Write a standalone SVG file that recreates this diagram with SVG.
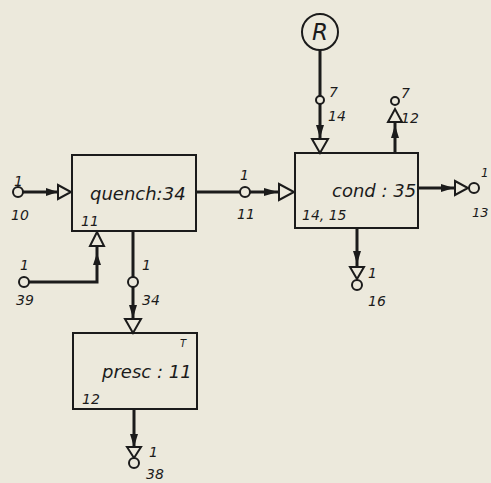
<svg xmlns="http://www.w3.org/2000/svg" width="491" height="483" viewBox="0 0 491 483">
<style>
.box{fill:none;stroke:#1b1b1b;stroke-width:2}
.ln{fill:none;stroke:#1b1b1b;stroke-width:3}
.tri{fill:#ece9dc;stroke:#1b1b1b;stroke-width:2;stroke-linejoin:miter}
.ah{fill:#1b1b1b;stroke:none}
.pt{fill:#ece9dc;stroke:#1b1b1b;stroke-width:2}
.t{font-family:"DejaVu Sans","Liberation Sans",sans-serif;font-style:oblique;fill:#1b1b1b}
.big{font-size:18px}
.sm{font-size:14px}
</style>
<rect x="0" y="0" width="491" height="483" fill="#ece9dc"/>

<g id="connectors">
  <!-- input 10 -> quench -->
  <line class="ln" x1="22" y1="192" x2="58" y2="192"/>
  <polygon class="ah" points="46,188 58,192 46,196"/>
  <polygon class="tri" points="58,185 71,192 58,199"/>
  <circle class="pt" cx="18" cy="192" r="5"/>
  <text class="t sm" x="14" y="186">1</text>
  <text class="t sm" x="11" y="220">10</text>

  <!-- input 39 -> quench bottom -->
  <polyline class="ln" points="28,282 97,282 97,247"/>
  <polygon class="ah" points="93,265 97,253 101,265"/>
  <polygon class="tri" points="90,246 97,232 104,246"/>
  <circle class="pt" cx="24" cy="282" r="5"/>
  <text class="t sm" x="20" y="270">1</text>
  <text class="t sm" x="16" y="305">39</text>

  <!-- quench -> cond -->
  <line class="ln" x1="196" y1="192" x2="279" y2="192"/>
  <polygon class="ah" points="264,188 278,192 264,196"/>
  <polygon class="tri" points="279,184 294,192 279,200"/>
  <circle class="pt" cx="245" cy="192" r="5"/>
  <text class="t sm" x="240" y="180">1</text>
  <text class="t sm" x="237" y="219">11</text>

  <!-- quench -> presc -->
  <line class="ln" x1="133" y1="232" x2="133" y2="320"/>
  <polygon class="ah" points="129,305 133,318 137,305"/>
  <polygon class="tri" points="125,319 133,333 141,319"/>
  <circle class="pt" cx="133" cy="282" r="5"/>
  <text class="t sm" x="142" y="270">1</text>
  <text class="t sm" x="142" y="305">34</text>

  <!-- presc -> 38 -->
  <line class="ln" x1="134" y1="410" x2="134" y2="447"/>
  <polygon class="ah" points="130,434 134,447 138,434"/>
  <polygon class="tri" points="127,447 134,458 141,447"/>
  <circle class="pt" cx="134" cy="463" r="5"/>
  <text class="t sm" x="149" y="457">1</text>
  <text class="t sm" x="146" y="479">38</text>

  <!-- R -> cond -->
  <line class="ln" x1="320" y1="50" x2="320" y2="139"/>
  <polygon class="ah" points="316,125 320,138 324,125"/>
  <polygon class="tri" points="312,139 320,153 328,139"/>
  <circle class="pt" cx="320" cy="100" r="4"/>
  <text class="t sm" x="329" y="97">7</text>
  <text class="t sm" x="328" y="121">14</text>

  <!-- cond -> 12 (up) -->
  <line class="ln" x1="395" y1="153" x2="395" y2="122"/>
  <polygon class="ah" points="391,138 395,125 399,138"/>
  <polygon class="tri" points="388,122 395,109 402,122"/>
  <circle class="pt" cx="395" cy="101" r="4"/>
  <text class="t sm" x="401" y="98">7</text>
  <text class="t sm" x="401" y="123">12</text>

  <!-- cond -> 13 (right) -->
  <line class="ln" x1="418" y1="188" x2="455" y2="188"/>
  <polygon class="ah" points="441,184 454,188 441,192"/>
  <polygon class="tri" points="455,181 468,188 455,195"/>
  <circle class="pt" cx="474" cy="188" r="5"/>
  <text class="t" font-size="12" x="481" y="177">1</text>
  <text class="t" font-size="13" x="472" y="217">13</text>

  <!-- cond -> 16 (down) -->
  <line class="ln" x1="357" y1="229" x2="357" y2="267"/>
  <polygon class="ah" points="353,251 357,264 361,251"/>
  <polygon class="tri" points="350,267 357,279 364,267"/>
  <circle class="pt" cx="357" cy="285" r="5"/>
  <text class="t sm" x="368" y="278">1</text>
  <text class="t sm" x="368" y="306">16</text>
</g>

<g id="quench">
  <rect class="box" x="72" y="155" width="124" height="76"/>
  <text class="t big" x="90" y="200">quench:34</text>
  <text class="t sm" x="81" y="226">11</text>
</g>

<g id="cond">
  <rect class="box" x="295" y="153" width="123" height="75"/>
  <text class="t big" x="332" y="197">cond : 35</text>
  <text class="t sm" x="302" y="220">14, 15</text>
</g>

<g id="presc">
  <rect class="box" x="73" y="333" width="124" height="76"/>
  <text class="t big" x="102" y="378">presc : 11</text>
  <text class="t" font-size="10" x="180" y="347">T</text>
  <text class="t sm" x="82" y="404">12</text>
</g>

<g id="R">
  <circle cx="320" cy="32" r="18" fill="none" stroke="#1b1b1b" stroke-width="2"/>
  <text class="t" font-size="23" x="320" y="40" text-anchor="middle">R</text>
</g>
</svg>
